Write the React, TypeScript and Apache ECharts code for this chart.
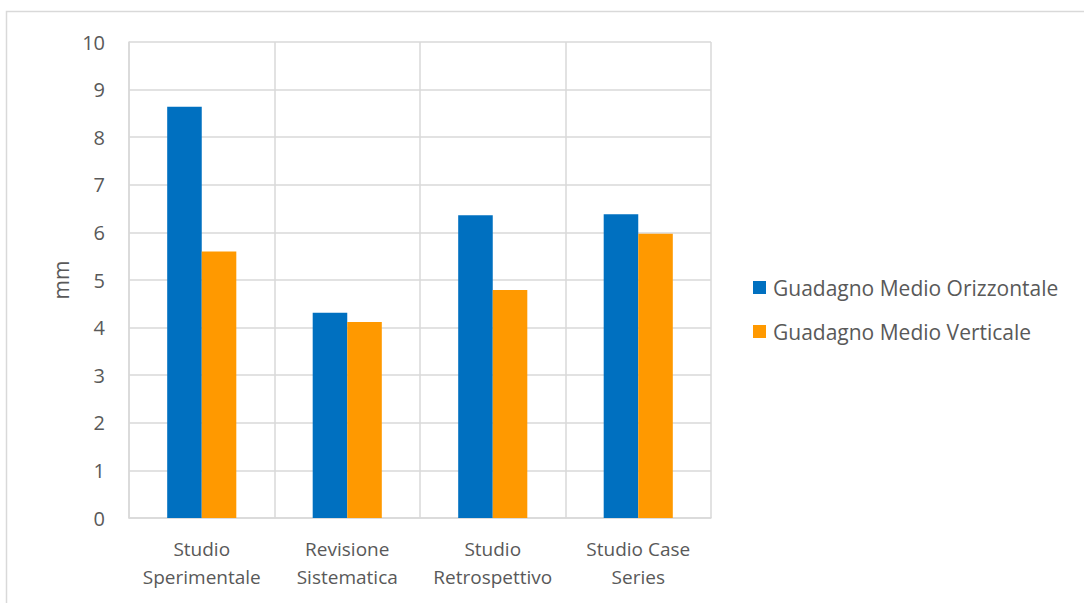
import React, { useEffect, useRef } from "react";
import * as echarts from "echarts";

const categories = [
  "Studio\nSperimentale",
  "Revisione\nSistematica",
  "Studio\nRetrospettivo",
  "Studio Case\nSeries",
];
const orizzontale = [8.64, 4.31, 6.36, 6.38];
const verticale = [5.6, 4.12, 4.79, 5.97];
const seriesNames = ["Guadagno Medio Orizzontale", "Guadagno Medio Verticale"];

const FONT = "'Open Sans', 'Noto Sans', sans-serif";
const TEXT = "#595959";
const GRID = "#d9d9d9";

export default function App() {
  const ref = useRef<HTMLDivElement>(null);

  useEffect(() => {
    if (!ref.current) return;
    const chart = echarts.init(ref.current, undefined, { renderer: "svg" });
    chart.setOption({
      animation: false,
      backgroundColor: "#ffffff",
      textStyle: { fontFamily: FONT, color: TEXT },
      graphic: [
        {
          type: "rect",
          shape: { x: 6.5, y: 11.5, width: 1200, height: 800 },
          style: { fill: "none", stroke: GRID, lineWidth: 1.5 },
          silent: true,
        },
      ],
      grid: { left: 129, top: 42, right: 373, bottom: 85, containLabel: false },
      legend: {
        orient: "vertical",
        left: 753,
        top: 277,
        padding: 0,
        icon: "rect",
        itemWidth: 13,
        itemHeight: 13,
        itemGap: 23,
        textStyle: { fontFamily: FONT, fontSize: 21, color: TEXT, padding: [0, 0, 0, 2] },
        data: seriesNames,
      },
      xAxis: {
        type: "category",
        data: categories,
        axisLine: { show: true, lineStyle: { color: GRID, width: 1.5 } },
        axisTick: { show: false },
        splitLine: { show: true, lineStyle: { color: GRID, width: 1.5 } },
        axisLabel: {
          fontFamily: FONT,
          fontSize: 19,
          color: TEXT,
          margin: 17,
          lineHeight: 28,
          interval: 0,
        },
      },
      yAxis: {
        type: "value",
        min: 0,
        max: 10,
        interval: 1,
        name: "mm",
        nameLocation: "middle",
        nameGap: 58,
        nameTextStyle: { fontFamily: FONT, fontSize: 21, color: TEXT },
        axisLine: { show: true, lineStyle: { color: GRID, width: 1.5 } },
        axisTick: { show: false },
        splitLine: { show: true, lineStyle: { color: GRID, width: 1.5 } },
        axisLabel: { fontFamily: FONT, fontSize: 20, color: TEXT, margin: 24 },
      },
      series: [
        {
          name: seriesNames[0],
          type: "bar",
          data: orizzontale,
          itemStyle: { color: "#0070c0" },
          barGap: "0%",
          barCategoryGap: "52.5%",
        },
        {
          name: seriesNames[1],
          type: "bar",
          data: verticale,
          itemStyle: { color: "#ff9900" },
          barGap: "0%",
          barCategoryGap: "52.5%",
        },
      ],
    });
    return () => chart.dispose();
  }, []);

  return (
    <div
      ref={ref}
      style={{ position: "absolute", left: 0, top: 0, width: 1084, height: 603 }}
    />
  );
}
